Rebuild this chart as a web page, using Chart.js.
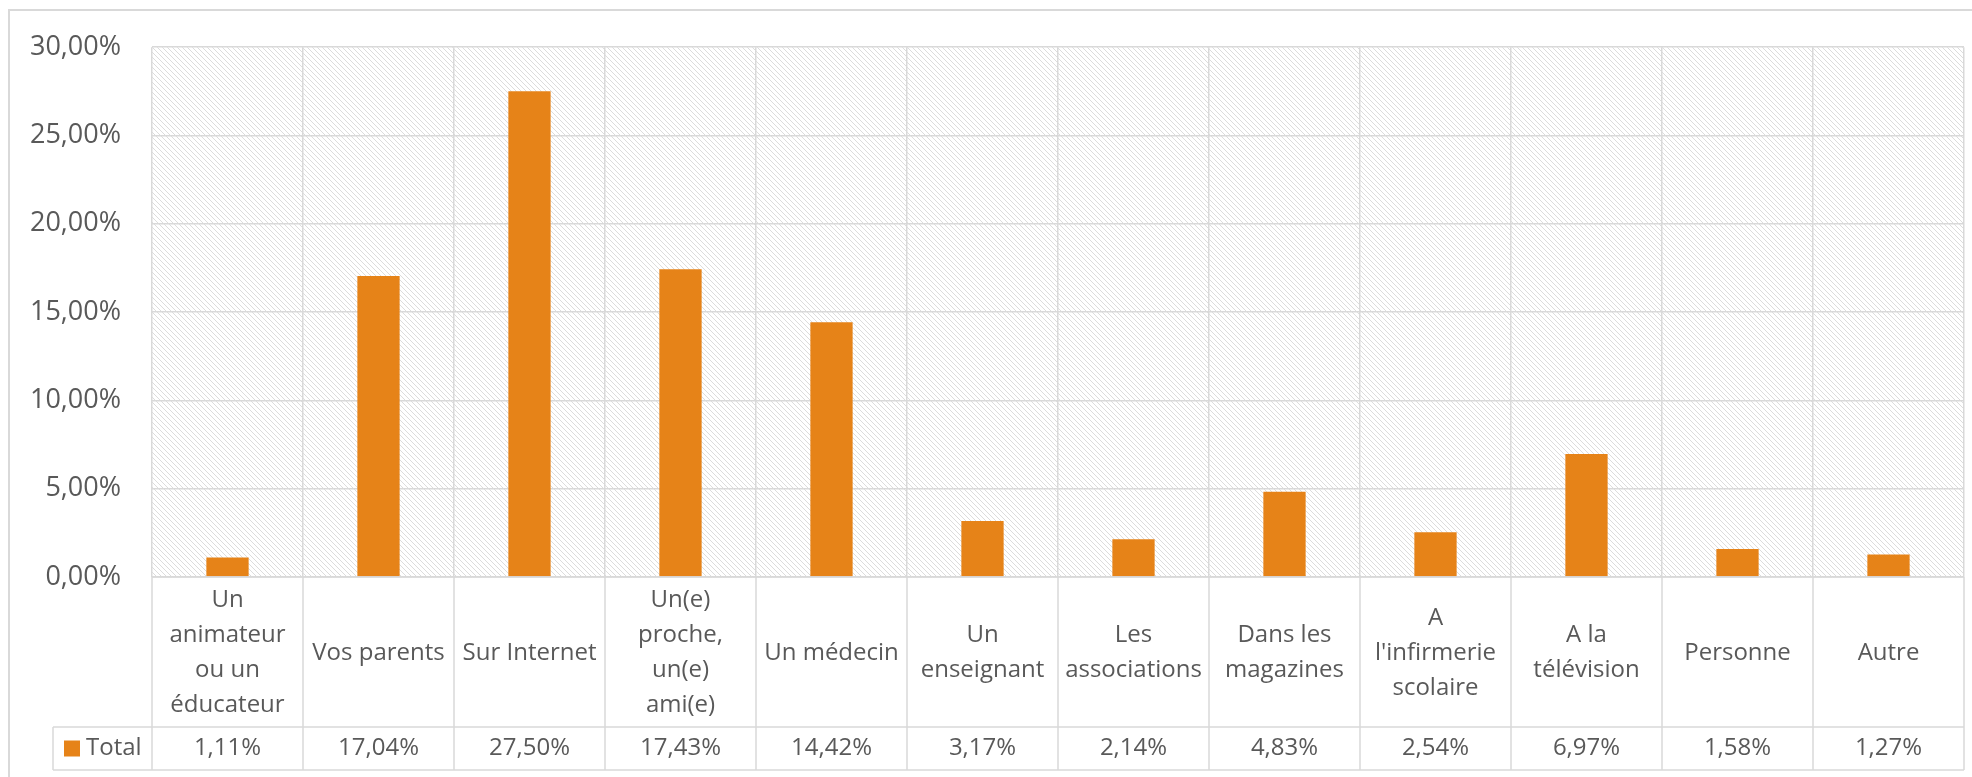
<!DOCTYPE html>
<html>
<head>
<meta charset="utf-8">
<script src="https://cdn.jsdelivr.net/npm/chart.js@4.4.1/dist/chart.umd.min.js"></script>
<style>
  html, body { margin:0; padding:0; background:#fff; }
  #wrap { width:1972px; height:777px; position:relative; }
</style>
</head>
<body>
<div id="wrap"><canvas id="chart" width="1972" height="777"></canvas></div>
<script>
/* ---------- DATA ---------- */
const categories = [
  ["Un","animateur","ou un","éducateur"],
  ["Vos parents"],
  ["Sur Internet"],
  ["Un(e)","proche,","un(e)","ami(e)"],
  ["Un médecin"],
  ["Un","enseignant"],
  ["Les","associations"],
  ["Dans les","magazines"],
  ["A","l'infirmerie","scolaire"],
  ["A la","télévision"],
  ["Personne"],
  ["Autre"]
];
const totalValues = [1.11, 17.04, 27.50, 17.43, 14.42, 3.17, 2.14, 4.83, 2.54, 6.97, 1.58, 1.27];
const seriesName = "Total";
const yTicks = [0, 5, 10, 15, 20, 25, 30];

/* ---------- STYLE ---------- */
const TEXT = "#595959";
const GRID = "#d9d9d9";
const BAR = "#E68318";
const FONT = "'Open Sans', sans-serif";

function fmtPct(v){ return v.toFixed(2).replace('.', ',') + '%'; }

/* ---------- hatch pattern for plot area (thin "\" diagonals) ---------- */
function makeHatch(){
  const c = document.createElement('canvas');
  c.width = 5; c.height = 5;
  const g = c.getContext('2d');
  g.fillStyle = '#dcdcdc';
  for(let i=0;i<5;i++) g.fillRect(i, i, 1, 1);
  return g.createPattern(c, 'repeat');
}

const hatchPlugin = {
  id: 'hatch',
  beforeDraw(chart){
    const {ctx, chartArea:a} = chart;
    ctx.save();
    // outer chart border (runs past the canvas right/bottom)
    ctx.strokeStyle = GRID; ctx.lineWidth = 2;
    ctx.strokeRect(9, 10, 1980, 800);
    ctx.fillStyle = makeHatch();
    ctx.fillRect(a.left, a.top, a.right - a.left, a.bottom - a.top);
    ctx.restore();
  }
};

/* ---------- data table below the plot ---------- */
const tablePlugin = {
  id: 'dataTable',
  afterDraw(chart){
    const {ctx, chartArea:a} = chart;
    const x = chart.scales.x;
    const n = categories.length;
    const step = (a.right - a.left) / n;
    const rowTop = a.bottom, catBottom = 727, valBottom = 770, legendLeft = 53;
    ctx.save();
    ctx.strokeStyle = GRID; ctx.lineWidth = 1.5;
    ctx.beginPath();
    ctx.moveTo(a.left, rowTop); ctx.lineTo(a.right, rowTop);
    ctx.moveTo(legendLeft, catBottom); ctx.lineTo(a.right, catBottom);
    ctx.moveTo(legendLeft, valBottom); ctx.lineTo(a.right, valBottom);
    ctx.moveTo(legendLeft, catBottom); ctx.lineTo(legendLeft, valBottom);
    for(let i=0;i<=n;i++){
      const gx = a.left + i*step;
      ctx.moveTo(gx, rowTop); ctx.lineTo(gx, valBottom);
    }
    ctx.stroke();

    ctx.fillStyle = TEXT;
    ctx.textAlign = 'center'; ctx.textBaseline = 'middle';
    ctx.font = "24px " + FONT;
    const lh = 35;
    const midCat = (rowTop + catBottom) / 2 + 1;
    const midVal = (catBottom + valBottom) / 2;
    categories.forEach((lines, i) => {
      const cx = x.getPixelForValue(i);
      const y0 = midCat - (lines.length - 1) * lh / 2;
      lines.forEach((t, j) => ctx.fillText(t, cx, y0 + j*lh));
      ctx.fillText(fmtPct(totalValues[i]), cx, midVal);
    });
    // legend key
    ctx.fillStyle = BAR;
    ctx.fillRect(64, midVal - 8, 16, 16);
    ctx.fillStyle = TEXT; ctx.textAlign = 'left';
    ctx.fillText(seriesName, 86, midVal);
    ctx.restore();
  }
};

/* ---------- chart ---------- */
new Chart(document.getElementById('chart').getContext('2d'), {
  type: 'bar',
  data: {
    labels: categories.map(c => c.join(' ')),
    datasets: [{
      label: seriesName,
      data: totalValues,
      backgroundColor: BAR,
      categoryPercentage: 1,
      barPercentage: 0.28
    }]
  },
  options: {
    responsive: false,
    animation: false,
    layout: { padding: { top: 42, right: 8, bottom: 200, left: 0 } },
    plugins: { legend: { display: false }, tooltip: { enabled: false } },
    scales: {
      x: {
        ticks: { display: false },
        grid: { color: GRID, lineWidth: 1.5, offset: true, drawTicks: false },
        border: { display: false },
        afterFit(s){ s.height = 0; }
      },
      y: {
        min: 0, max: 30,
        afterBuildTicks(s){ s.ticks = yTicks.map(v => ({value: v})); },
        ticks: {
          color: TEXT, padding: 31,
          font: { family: "'Open Sans', sans-serif", size: 27 },
          callback: v => fmtPct(v)
        },
        grid: { color: GRID, lineWidth: 1.5, drawTicks: false },
        border: { display: false },
        afterFit(s){ s.width = 152; }
      }
    }
  },
  plugins: [hatchPlugin, tablePlugin]
});
</script>
</body>
</html>
